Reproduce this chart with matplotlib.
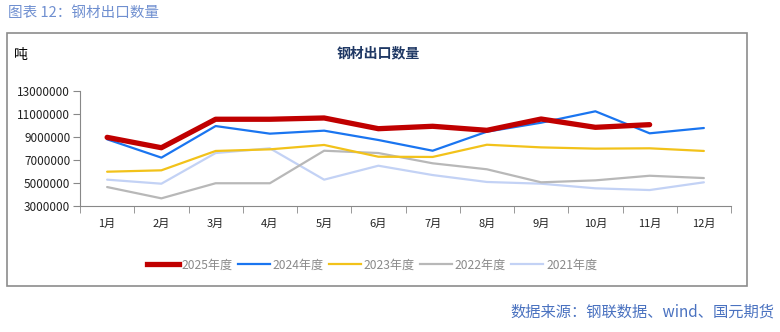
import matplotlib.pyplot as plt
from matplotlib.patches import Rectangle
from matplotlib.lines import Line2D

plt.rcParams['font.family'] = ['Noto Sans CJK SC', 'DejaVu Sans']

months = ['1月', '2月', '3月', '4月', '5月', '6月', '7月', '8月', '9月', '10月', '11月', '12月']
y2025 = [8980000, 8080000, 10550000, 10550000, 10660000, 9730000, 9940000, 9590000, 10570000, 9850000, 10080000]
y2024 = [8810000, 7220000, 9960000, 9300000, 9560000, 8750000, 7820000, 9470000, 10250000, 11240000, 9330000, 9790000]
y2023 = [6000000, 6120000, 7800000, 7940000, 8320000, 7300000, 7280000, 8340000, 8110000, 8000000, 8030000, 7800000]
y2022 = [4670000, 3690000, 5000000, 5000000, 7820000, 7620000, 6730000, 6210000, 5080000, 5250000, 5650000, 5450000]
y2021 = [5310000, 4960000, 7620000, 8030000, 5310000, 6520000, 5710000, 5110000, 4960000, 4560000, 4410000, 5080000]

series = [
    ('2025年度', y2025, '#c00000', 3.8),
    ('2024年度', y2024, '#1a75f0', 1.6),
    ('2023年度', y2023, '#f2c21a', 1.6),
    ('2022年度', y2022, '#b8b8b8', 1.6),
    ('2021年度', y2021, '#c3d2f5', 1.6),
]

W, H = 780, 332
fig = plt.figure(figsize=(W / 100, H / 100), dpi=100)

# outer frame
fig.patches.append(Rectangle((7 / W, 1 - 286 / H), 740 / W, 253 / H, transform=fig.transFigure,
                             fill=False, edgecolor='#8c8c8c', linewidth=1.2))

ax = fig.add_axes([80 / W, 1 - 206.3 / H, (731 - 80) / W, (206.3 - 91) / H])
# draw older years first so 2025 sits on top
for name, vals, col, lw in reversed(series):
    ax.plot(range(len(vals)), vals, color=col, linewidth=lw, solid_capstyle='round',
            zorder=3 if name == '2025年度' else 2)

ax.set_xlim(-0.5, 11.5)
ax.set_ylim(3000000, 13000000)
ax.set_yticks(range(3000000, 13000001, 2000000))
ax.set_yticklabels([str(v) for v in range(3000000, 13000001, 2000000)], fontsize=8.5, color='#222222')
ax.set_xticks(range(12))
ax.set_xticklabels(months, fontsize=8, color='#222222')
ax.set_xticks([i - 0.5 for i in range(13)], minor=True)
ax.tick_params(axis='x', which='major', length=0, pad=9)
ax.tick_params(axis='x', which='minor', length=5, color='#888888')
ax.tick_params(axis='y', length=5, color='#888888', pad=2)
for s in ['top', 'right']:
    ax.spines[s].set_visible(False)
for s in ['left', 'bottom']:
    ax.spines[s].set_color('#888888')

fig.text(378 / W, 1 - 53 / H, '钢材出口数量', ha='center', va='center', fontsize=10,
         fontweight='bold', color='#1f3864')
fig.text(14 / W, 1 - 55 / H, '吨', ha='left', va='center', fontsize=10, color='#000000')
fig.text(8 / W, 1 - 13 / H, '图表 12：钢材出口数量', ha='left', va='center', fontsize=10.5, color='#6f8fd0')
fig.text(774 / W, 1 - 312 / H, '数据来源：钢联数据、wind、国元期货', ha='right', va='center',
         fontsize=11, color='#4a72c0')

handles = [Line2D([], [], color=c, linewidth=lw) for _, _, c, lw in series]
leg = fig.legend(handles, [s[0] for s in series], loc='center', bbox_to_anchor=(372 / W, 1 - 265 / H),
                 ncol=5, frameon=False, fontsize=8.7, handlelength=2.65, handletextpad=0.25,
                 columnspacing=0.4, labelcolor='#8a8a8a')

plt.savefig('out.png', dpi=100)
